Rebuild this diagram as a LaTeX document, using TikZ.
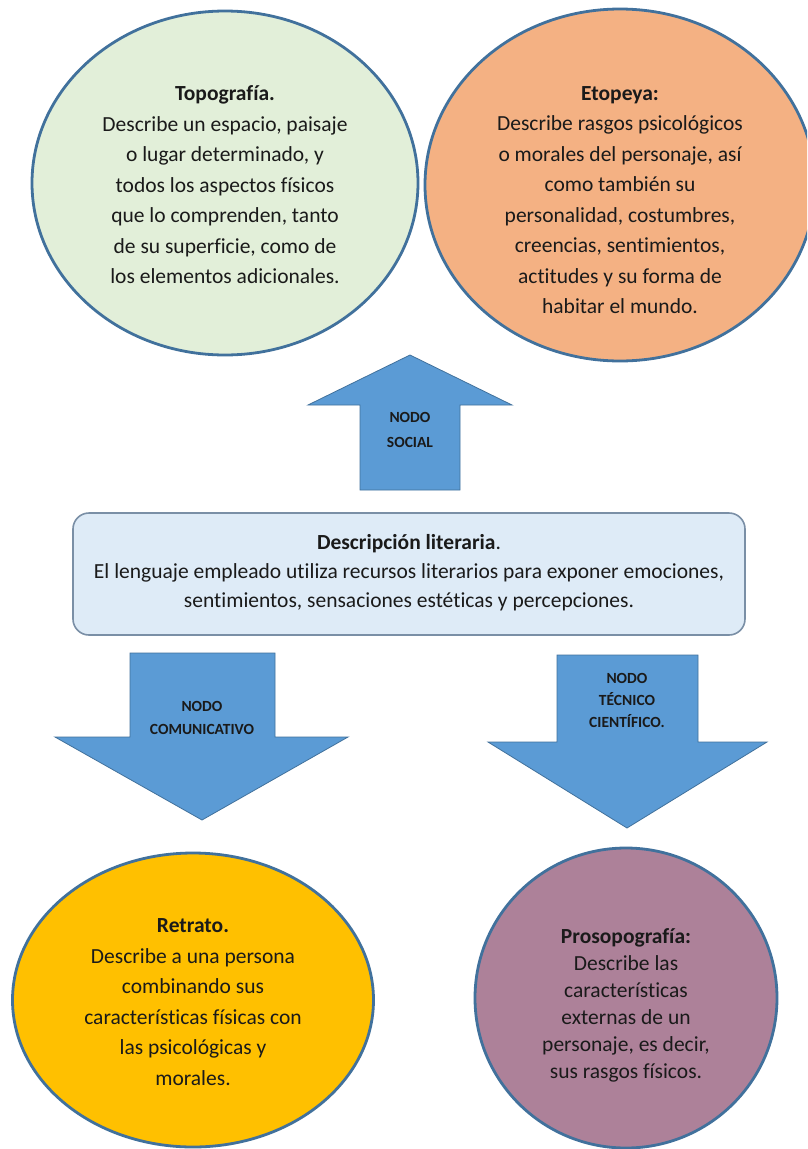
\documentclass[tikz,border=0pt]{standalone}
\usepackage{fontspec}
\setmainfont{Carlito}[Ligatures=NoCommon]
\usetikzlibrary{shapes.geometric}
\definecolor{edgeblue}{HTML}{41719C}
\definecolor{arrowblue}{HTML}{5B9BD5}
\definecolor{greenfill}{HTML}{E2EFD9}
\definecolor{orangefill}{HTML}{F4B183}
\definecolor{yellowfill}{HTML}{FFC000}
\definecolor{mauvefill}{HTML}{AD8199}
\definecolor{boxfill}{HTML}{DEEBF7}
\definecolor{boxedge}{HTML}{7A8FA6}
\definecolor{txtcol}{HTML}{1A1A1A}
\begin{document}
\begin{tikzpicture}[x=1pt,y=-1pt,
  ell/.style={ellipse, draw=edgeblue, line width=2.8pt, inner sep=0pt},
  bigtxt/.style={align=center, text=txtcol, inner sep=0pt, font=\fontsize{21.5}{30.5}\selectfont},
  arrowsty/.style={fill=arrowblue, draw=edgeblue, line width=0.8pt, line join=miter},
  arrtxt/.style={align=center, text=txtcol, inner sep=0pt, font=\bfseries\fontsize{15.5}{23}\selectfont},
  descbox/.style={draw=boxedge, fill=boxfill, line width=1.6pt, rounded corners=16pt, inner sep=0pt}
]
\useasboundingbox (0,0) rectangle (807,1149);
\clip (0,0) rectangle (807,1149);
\fill[white] (0,0) rectangle (807,1149);

% top ellipses
\node[ell, fill=greenfill, minimum width=386pt, minimum height=344pt] (topo) at (225,183) {};
\node[ell, fill=orangefill, minimum width=390pt, minimum height=352pt] (eto) at (620,185) {};
\node[bigtxt] (topoT) at (225,185) {\textbf{Topografía.}\\Describe un espacio, paisaje\\o lugar determinado, y\\todos los aspectos físicos\\que lo comprenden, tanto\\de su superficie, como de\\los elementos adicionales.};
\node[bigtxt] (etoT) at (620,200) {\textbf{Etopeya:}\\Describe rasgos psicológicos\\o morales del personaje, así\\como también su\\personalidad, costumbres,\\creencias, sentimientos,\\actitudes y su forma de\\habitar el mundo.};

% up arrow
\path[arrowsty] (360,490) -- (360,405) -- (308,405) -- (410,355) -- (512,405) -- (460,405) -- (460,490) -- cycle;
\node[arrtxt, font=\bfseries\fontsize{15.5}{25}\selectfont] (socT) at (410,430) {NODO\\SOCIAL};

% central box
\node[descbox, minimum width=672pt, minimum height=122pt] (desc) at (409,574) {};
\node[bigtxt, font=\fontsize{21.5}{29}\selectfont] (descT) at (409,573) {\textbf{Descripción literaria}.\\El lenguaje empleado utiliza recursos literarios para exponer emociones,\\sentimientos, sensaciones estéticas y percepciones.};

% down arrows
\path[arrowsty] (130,653) -- (275,653) -- (275,737) -- (348,737) -- (202,820) -- (55,737) -- (130,737) -- cycle;
\node[arrtxt] (comT) at (202,718) {NODO\\COMUNICATIVO};
\path[arrowsty] (557,655) -- (698,655) -- (698,742) -- (767,742) -- (627,828) -- (488,742) -- (557,742) -- cycle;
\node[arrtxt, font=\bfseries\fontsize{15.5}{22}\selectfont] (tecT) at (627,700) {NODO\\TÉCNICO\\CIENTÍFICO.};

% bottom ellipses
\node[ell, fill=yellowfill, minimum width=361pt, minimum height=294pt] (ret) at (193,1000) {};
\node[ell, fill=mauvefill, minimum width=302pt, minimum height=300pt] (pros) at (626,998) {};
\node[bigtxt] (retT) at (193,1002) {\textbf{Retrato.}\\Describe a una persona\\combinando sus\\características físicas con\\las psicológicas y\\morales.};
\node[bigtxt, font=\fontsize{21.5}{27}\selectfont] (prosT) at (626,1005) {\textbf{Prosopografía:}\\Describe las\\características\\externas de un\\personaje, es decir,\\sus rasgos físicos.};
\end{tikzpicture}
\end{document}
